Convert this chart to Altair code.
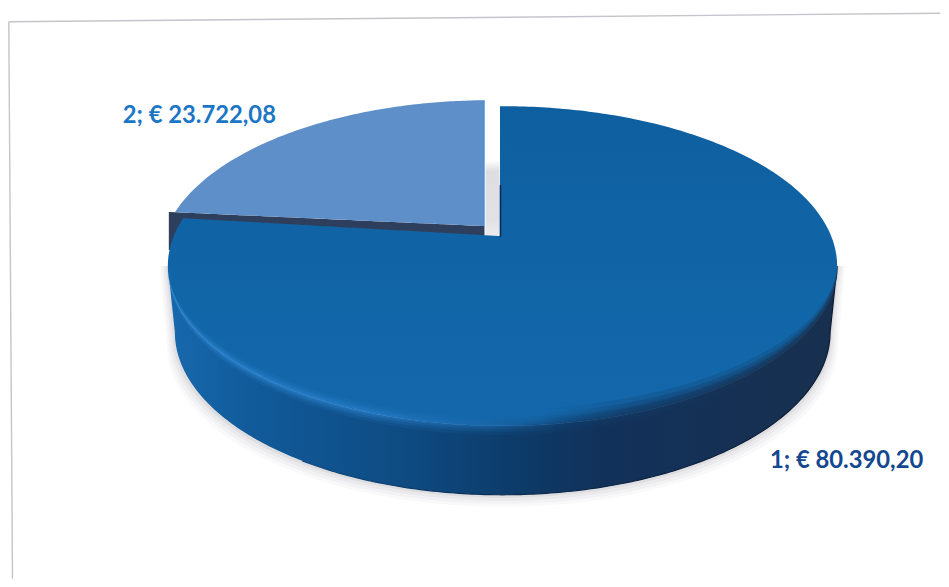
import math
import altair as alt
import pandas as pd

# --- chart values ---
categories = ["1", "2"]
amounts = [80390.20, 23722.08]
label_colors = ["#13478f", "#1b76c6"]
label_x = [847.5, 199.5]
label_y = [461.5, 116]

W, H = 933, 571


def euro(v):
    s = f"{v:,.2f}".replace(",", "X").replace(".", ",").replace("X", ".")
    return f"€ {s}"


# layout of the tilted pie (picture pixels)
CX, CY, A, B, DEPTH = 503.0, 266.0, 335.0, 160.0, 66.0
BOT_A, BOT_B = 328.0, 163.0           # outline of the base
SX, SY, SA = 490.0, 260.0, 330.0      # the pulled-out slice
FORESHORTEN = 0.885
share = amounts[1] / sum(amounts)
theta = math.radians(share * 360 * FORESHORTEN)
x_end = CX - A * math.sin(theta)
y_end = CY - B * math.cos(theta)
APEX_X, APEX_Y = 500.5, 236.0
sx_end = SX - SA * math.sin(theta)
sy_end = SY - B * math.cos(theta)
SCUT_X, SCUT_Y = 484.5, 226.0


def upper(x, cx=CX, cy=CY, a=A, b=B):
    return cy - b * math.sqrt(max(0.0, 1 - ((x - cx) / a) ** 2))


def lower(x, cx=CX, cy=CY, a=A, b=B):
    return cy + b * math.sqrt(max(0.0, 1 - ((x - cx) / a) ** 2))


def base(x, grow=0.0, drop=0.0):
    """Lower outline of the base; past its ends it runs straight up to the top face's widest point."""
    d = abs(x - CX)
    limit = BOT_A + grow
    if d >= limit:
        end_y = CY + DEPTH + drop
        span = max(A + grow - limit, 1e-6)
        return max(lower(x), end_y + (CY - end_y) * min(1.0, (d - limit) / span))
    return max(lower(x), lower(x, a=limit, b=BOT_B) + DEPTH + drop)


def taper(x):
    return math.sqrt(max(0.0, 1 - ((x - CX) / A) ** 2)) ** 0.5


def sweep(cx=CX, a=A, n=240):
    return [cx - a * math.cos(math.pi * i / n) for i in range(n + 1)]


def lerp(x, x0, y0, x1, y1):
    return y0 + (y1 - y0) * (x - x0) / (x1 - x0)


# top face of the big slice
xs = sorted(set(sweep() + [x_end, APEX_X, APEX_X + 0.01]))
rows = []
for x in xs:
    if x < x_end or x > APEX_X:
        top = upper(x)
    else:
        top = lerp(x, x_end, y_end, APEX_X, APEX_Y)
    rows.append({"x": x, "y": top, "y2": lower(x)})
big_top = pd.DataFrame(rows)

# side wall
wall_x = sorted(set(sweep() + [CX - BOT_A, CX + BOT_A]))
wall = pd.DataFrame([{"x": x, "y": lower(x), "y2": base(x)} for x in wall_x])

bottom_edge = pd.DataFrame([{"x": x, "y": base(x)} for x in wall_x if x > 300])

# pulled-out slice
sx = [sx_end + (SCUT_X - sx_end) * i / 100 for i in range(101)]
small = pd.DataFrame([{"x": x, "y": upper(x, SX, SY, SA), "y2": lerp(x, sx_end, sy_end, SCUT_X, SCUT_Y)} for x in sx])

# dark cut face under the pulled-out slice
dx = [169 + (SCUT_X + 0.5 - 169) * i / 40 for i in range(41)]
cut = pd.DataFrame([{"x": x, "y": lerp(x, sx_end, sy_end, SCUT_X, SCUT_Y), "y2": 250} for x in dx])

# pale strip seen through the gap
strip = pd.DataFrame({"x": [486, 500], "y": [160, 160], "y2": [236, 236]})

X = alt.X("x:Q", scale=alt.Scale(domain=[8, 8 + W], nice=False, zero=False), axis=None)
Y = alt.Y("y:Q", scale=alt.Scale(domain=[8 + H, 8], nice=False, zero=False), axis=None)
Y2 = alt.Y2("y2:Q")


def grad(stops, horizontal=True):
    return alt.LinearGradient(
        gradient="linear",
        stops=[alt.GradientStop(color=c, offset=o) for o, c in stops],
        x1=0, y1=0,
        x2=1 if horizontal else 0,
        y2=0 if horizontal else 1,
    )


layers = []

# soft shadow
for off, grow, op in [(12, 8, 0.05), (9, 6, 0.06), (6, 4, 0.08), (3, 2, 0.12)]:
    sh_x = sorted(set(sweep(a=A + grow) + [CX - BOT_A - grow, CX + BOT_A + grow]))
    sh = pd.DataFrame([{"x": x, "y": lower(x), "y2": base(x, grow, off)} for x in sh_x])
    layers.append(alt.Chart(sh).mark_area(color="#8d8d96", opacity=op).encode(x=X, y=Y, y2=Y2))

layers.append(alt.Chart(wall).mark_area(fill=grad([
    (0.0, "#1769ad"), (0.12, "#115b9b"), (0.35, "#0e4b82"),
    (0.52, "#0d3b69"), (0.65, "#12315a"), (1.0, "#18304f"),
])).encode(x=X, y=Y, y2=Y2))

layers.append(alt.Chart(bottom_edge).mark_line(strokeWidth=1.2, stroke=grad([
    (0.0, "#0e4b82"), (0.4, "#0b2a4e"), (1.0, "#0b1a30"),
])).encode(x=X, y=Y))

layers.append(alt.Chart(cut).mark_area(color="#2e3f5e").encode(x=X, y=Y, y2=Y2))
layers.append(alt.Chart(small).mark_area(color="#5f8fc8").encode(x=X, y=Y, y2=Y2))
layers.append(alt.Chart(strip).mark_area(fill=grad([
    (0.0, "#ffffff"), (0.15, "#dedee2"), (0.8, "#e2e2e6"), (1.0, "#ebebf0"),
], horizontal=False)).encode(x=X, y=Y, y2=Y2))

layers.append(alt.Chart(big_top).mark_area(fill=grad([
    (0.0, "#0e5f9f"), (0.6, "#1166a8"), (1.0, "#1367aa"),
], horizontal=False)).encode(x=X, y=Y, y2=Y2))

# blurred bevel on the rim: light at the left, dark at the right; tapers to nothing at the sides
rim_stops = [(0.0, "#3089d4"), (0.3, "#2a80cc"), (0.48, "#1a66a8"),
             (0.6, "#103f6e"), (0.8, "#15345a"), (1.0, "#18304f")]
for half, op in [(9, 0.14), (6, 0.22), (3.5, 0.3), (1.5, 0.35)]:
    band = pd.DataFrame([
        {"x": x, "y": lower(x) - half * taper(x), "y2": lower(x) + half * taper(x)} for x in sweep()
    ])
    layers.append(alt.Chart(band).mark_area(opacity=op, fill=grad(rim_stops)).encode(x=X, y=Y, y2=Y2))

dark_sweep = [x for x in sweep() if x > 540]
for up, op in [(17, 0.2), (12, 0.28), (7, 0.35)]:
    band = pd.DataFrame([
        {"x": x, "y": lower(x) - up * taper(x), "y2": lower(x)} for x in dark_sweep
    ])
    layers.append(alt.Chart(band).mark_area(opacity=op, fill=grad([
        (0.0, "rgba(16,60,105,0)"), (0.3, "#12365f"), (1.0, "#17304f"),
    ])).encode(x=X, y=Y, y2=Y2))

# thin edges at the gap
edge_blue = pd.DataFrame({"x": [SCUT_X], "y": [100], "y2": [SCUT_Y]})
edge_dark = pd.DataFrame({"x": [APEX_X + 0.5], "y": [185], "y2": [APEX_Y + 1]})
layers.append(alt.Chart(edge_blue).mark_rule(color="#3f92d8", strokeWidth=1.4).encode(x=X, y=Y, y2=Y2))
layers.append(alt.Chart(edge_dark).mark_rule(color="#0c2a55", strokeWidth=1.6).encode(x=X, y=Y, y2=Y2))

# labels
labels = pd.DataFrame({
    "text": [f"{c}; {euro(v)}" for c, v in zip(categories, amounts)],
    "x": label_x, "y": label_y, "color": label_colors,
})
layers.append(alt.Chart(labels).mark_text(
    font="Lato", fontWeight="bold", fontSize=23.8, align="center", baseline="middle"
).encode(x=X, y=Y, text="text:N", color=alt.Color("color:N", scale=None, legend=None)))

# page frame of the scan
frame = pd.DataFrame({"x": [8.8, 8.8], "y": [21.5, 21.5], "x2": [941, 12.5], "y2": [13, 579]})
layers.append(alt.Chart(frame).mark_rule(color="#c4c4ca", strokeWidth=1.4).encode(
    x=X, y=Y, x2=alt.X2("x2:Q"), y2=Y2))

chart = alt.layer(*layers).properties(
    width=W, height=H, padding=0, background="white"
).configure_view(stroke=None)

chart.save("out.html", embed_options={"renderer": "svg", "actions": False})
